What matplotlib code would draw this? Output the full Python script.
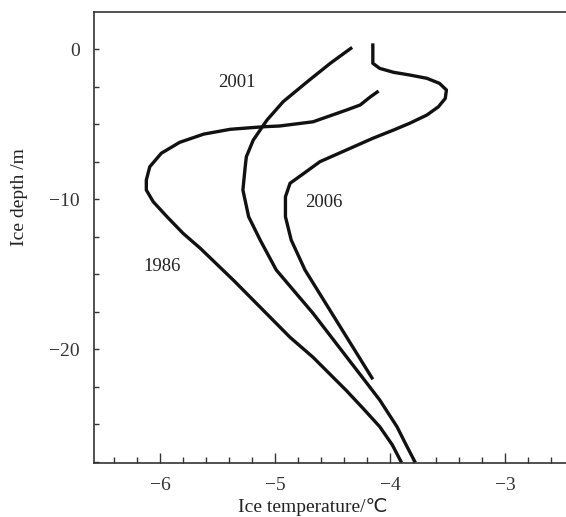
import numpy as np
import matplotlib.pyplot as plt
from matplotlib.ticker import MultipleLocator

# ice temperature (C) vs depth (m)
t1986 = [-4.10, -4.17, -4.26, -4.38, -4.67, -4.96, -5.10, -5.39, -5.62, -5.83,
         -5.99, -6.09, -6.12, -6.12, -6.06, -5.94, -5.80, -5.65, -5.36, -4.87,
         -4.67, -4.38, -4.23, -4.09, -3.98, -3.90]
d1986 = [-2.80, -3.18, -3.73, -4.07, -4.85, -5.13, -5.18, -5.35, -5.67, -6.22,
         -6.95, -7.85, -8.73, -9.40, -10.18, -11.18, -12.29, -13.29, -15.43, -19.22,
         -20.55, -22.77, -24.0, -25.18, -26.4, -27.58]

t2001 = [-4.33, -4.52, -4.72, -4.93, -5.07, -5.19, -5.25, -5.26, -5.28, -5.23,
         -5.13, -4.99, -4.67, -4.38, -4.23, -4.09, -3.94, -3.86, -3.78]
d2001 = [0.11, -0.95, -2.18, -3.51, -4.73, -6.07, -7.18, -7.85, -9.40, -11.18,
         -12.73, -14.73, -17.62, -20.51, -22.0, -23.4, -25.18, -26.4, -27.58]

t2006 = [-4.15, -4.15, -4.15, -4.09, -3.97, -3.83, -3.68, -3.57, -3.51, -3.52,
         -3.58, -3.68, -3.83, -3.97, -4.15, -4.61, -4.75, -4.87, -4.91,
         -4.91, -4.86, -4.74, -4.38, -4.15]
d2006 = [0.38, -0.40, -0.95, -1.29, -1.55, -1.73, -1.95, -2.29, -2.73, -3.29,
         -3.85, -4.40, -4.95, -5.40, -5.95, -7.51, -8.29, -8.95, -9.85,
         -11.18, -12.73, -14.73, -19.18, -22.02]

years = ["1986", "2001", "2006"]
label_pos = [(-5.985, -14.47), (-5.333, -2.25), (-4.58, -10.25)]

fnt = ['Liberation Serif', 'DejaVu Sans']
plt.rcParams['font.family'] = fnt
plt.rcParams['font.size'] = 14

fig = plt.figure(figsize=(5.66, 5.17), dpi=100)
ax = fig.add_axes([94 / 566, 1 - 463 / 517, 1 - 94 / 566, (463 - 12) / 517])

for t, d in [(t1986, d1986), (t2001, d2001), (t2006, d2006)]:
    ax.plot(t, d, color='#111111', lw=2.4, solid_capstyle='butt',
            solid_joinstyle='round')

for yr, (x, y) in zip(years, label_pos):
    ax.text(x, y, yr, ha='center', va='center', fontsize=13.5, color='#222222')

ax.set_xlim(-6.575, -2.47)
ax.set_ylim(-27.6, 2.47)
ax.xaxis.set_major_locator(MultipleLocator(1))
ax.xaxis.set_minor_locator(MultipleLocator(0.2))
ax.yaxis.set_major_locator(MultipleLocator(10))
ax.yaxis.set_minor_locator(MultipleLocator(2.5))
ax.tick_params(axis='x', which='major', direction='in', length=7, width=1, pad=10, colors='#333333')
ax.tick_params(axis='x', which='minor', direction='in', length=4.5, width=1, colors='#333333')
ax.tick_params(axis='y', which='both', direction='in', length=3.6, width=1, pad=10, colors='#333333')
ax.spines['right'].set_visible(False)
for s in ['left', 'bottom', 'top']:
    ax.spines[s].set_color('#333333')
    ax.spines[s].set_linewidth(1.2)

ax.set_xlabel("Ice temperature/℃", color='#222222', va='center')
ax.set_ylabel("Ice depth /m", color='#222222', va='center')
ax.xaxis.set_label_coords(0.464, -0.097)
ax.yaxis.set_label_coords(-0.157, 0.59)

fig.savefig("out.png", dpi=100)
